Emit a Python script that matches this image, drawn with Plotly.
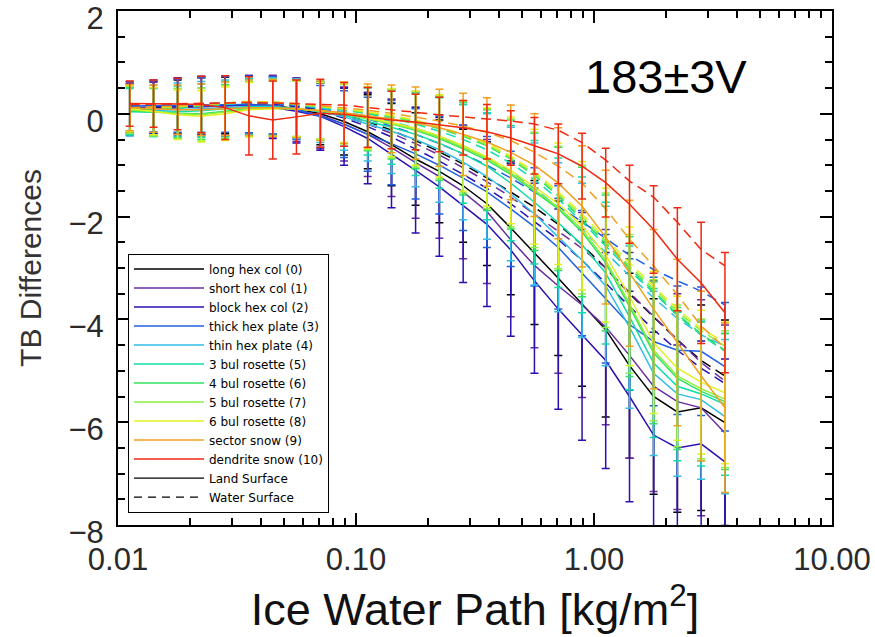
import plotly.graph_objects as go

# Ice water path [kg/m2]
iwp = [0.0112, 0.0141, 0.0178, 0.0224, 0.0282, 0.0355, 0.0447, 0.0562, 0.0708, 0.0891,
       0.112, 0.141, 0.178, 0.224, 0.282, 0.355, 0.447, 0.562, 0.708, 0.891,
       1.12, 1.41, 1.78, 2.24, 2.82, 3.55]

habit_names = ["long hex col (0)", "short hex col (1)", "block hex col (2)",
               "thick hex plate (3)", "thin hex plate (4)", "3 bul rosette (5)",
               "4 bul rosette (6)", "5 bul rosette (7)", "6 bul rosette (8)",
               "sector snow (9)", "dendrite snow (10)"]
habit_colors = ["#000000", "#6a2ca0", "#2a10b0", "#1f5fe0", "#30bde8", "#10dca8",
                "#30e060", "#88f040", "#e0f020", "#f0a020", "#f02810"]

# Land surface TB differences
land_0 = [0.10, 0.12, 0.14, 0.15, 0.16, 0.18, 0.16, 0.10, 0.00, -0.15, -0.35, -0.60, -0.88, -1.12, -1.40, -1.75, -2.22, -2.70, -3.20, -3.70, -4.20, -4.90, -5.50, -5.80, -5.72, -6.01]
land_1 = [0.08, 0.10, 0.12, 0.14, 0.15, 0.17, 0.15, 0.08, -0.03, -0.20, -0.40, -0.66, -0.95, -1.22, -1.52, -1.90, -2.45, -2.95, -3.35, -3.72, -4.15, -4.70, -5.30, -5.60, -5.72, -6.21]
land_2 = [0.12, 0.14, 0.15, 0.16, 0.16, 0.16, 0.12, 0.05, -0.05, -0.25, -0.48, -0.78, -1.10, -1.42, -1.78, -2.15, -2.65, -3.25, -3.80, -4.30, -4.80, -5.50, -6.25, -6.50, -6.42, -6.77]
land_3 = [0.15, 0.15, 0.16, 0.17, 0.18, 0.18, 0.16, 0.08, -0.05, -0.20, -0.40, -0.58, -0.78, -1.00, -1.25, -1.52, -1.85, -2.20, -2.60, -3.10, -3.60, -4.10, -4.43, -4.60, -4.62, -4.92]
land_4 = [0.05, 0.06, 0.08, 0.10, 0.12, 0.14, 0.14, 0.10, 0.04, -0.06, -0.20, -0.34, -0.50, -0.70, -0.94, -1.22, -1.56, -1.95, -2.40, -2.85, -3.35, -4.15, -5.05, -5.45, -5.56, -5.89]
land_5 = [0.04, 0.03, 0.04, 0.06, 0.10, 0.13, 0.13, 0.10, 0.05, -0.03, -0.15, -0.26, -0.40, -0.57, -0.78, -1.02, -1.35, -1.72, -2.12, -2.55, -3.10, -3.95, -4.85, -5.30, -5.45, -5.65]
land_6 = [0.06, 0.03, 0.01, 0.00, 0.05, 0.10, 0.12, 0.10, 0.06, 0.00, -0.10, -0.20, -0.32, -0.48, -0.68, -0.90, -1.18, -1.52, -1.85, -2.30, -2.90, -3.75, -4.65, -5.15, -5.40, -5.60]
land_7 = [0.08, 0.04, 0.00, -0.02, 0.03, 0.09, 0.11, 0.10, 0.06, 0.00, -0.09, -0.19, -0.30, -0.46, -0.65, -0.87, -1.15, -1.48, -1.82, -2.25, -2.85, -3.70, -4.60, -5.10, -5.35, -5.55]
land_8 = [0.10, 0.05, -0.02, -0.05, 0.00, 0.08, 0.10, 0.10, 0.06, 0.01, -0.08, -0.17, -0.28, -0.43, -0.62, -0.84, -1.10, -1.42, -1.75, -2.18, -2.75, -3.55, -4.45, -4.95, -5.22, -5.43]
land_9 = [0.12, 0.10, 0.08, 0.08, 0.10, 0.12, 0.12, 0.10, 0.06, 0.02, -0.04, -0.10, -0.18, -0.27, -0.40, -0.55, -0.75, -1.00, -1.35, -1.80, -2.40, -3.10, -3.80, -4.45, -5.10, -5.72]
land_10 = [0.20, 0.20, 0.19, 0.18, 0.12, -0.04, -0.12, -0.06, 0.01, -0.01, -0.07, -0.12, -0.16, -0.21, -0.27, -0.35, -0.47, -0.62, -0.78, -1.02, -1.34, -1.76, -2.25, -2.83, -3.29, -3.87]

# Water surface TB differences
water_0 = [0.12, 0.14, 0.16, 0.18, 0.20, 0.22, 0.20, 0.15, 0.08, -0.02, -0.15, -0.32, -0.52, -0.74, -0.98, -1.25, -1.52, -1.82, -2.15, -2.55, -3.00, -3.50, -3.95, -4.40, -4.80, -5.10]
water_1 = [0.10, 0.13, 0.15, 0.17, 0.19, 0.21, 0.19, 0.14, 0.06, -0.05, -0.20, -0.38, -0.58, -0.80, -1.05, -1.32, -1.62, -1.95, -2.30, -2.62, -3.00, -3.48, -3.94, -4.39, -4.84, -5.20]
water_2 = [0.14, 0.16, 0.17, 0.19, 0.21, 0.22, 0.20, 0.14, 0.05, -0.08, -0.25, -0.45, -0.68, -0.92, -1.18, -1.45, -1.75, -2.10, -2.45, -2.85, -3.30, -3.75, -4.20, -4.60, -4.95, -5.25]
water_3 = [0.15, 0.16, 0.17, 0.19, 0.21, 0.23, 0.21, 0.17, 0.10, 0.02, -0.10, -0.24, -0.40, -0.58, -0.78, -1.00, -1.25, -1.52, -1.80, -2.10, -2.42, -2.75, -3.03, -3.25, -3.45, -3.72]
water_4 = [0.08, 0.10, 0.12, 0.15, 0.18, 0.22, 0.21, 0.17, 0.11, 0.04, -0.05, -0.15, -0.28, -0.44, -0.62, -0.85, -1.12, -1.45, -1.82, -2.25, -2.70, -3.15, -3.58, -3.98, -4.30, -4.52]
water_5 = [0.07, 0.09, 0.11, 0.15, 0.19, 0.23, 0.22, 0.18, 0.13, 0.07, 0.00, -0.09, -0.20, -0.34, -0.50, -0.70, -0.96, -1.28, -1.66, -2.10, -2.58, -3.05, -3.48, -3.92, -4.30, -4.62]
water_6 = [0.08, 0.10, 0.12, 0.16, 0.20, 0.24, 0.23, 0.19, 0.14, 0.08, 0.02, -0.06, -0.16, -0.29, -0.44, -0.62, -0.88, -1.20, -1.60, -2.05, -2.52, -3.00, -3.45, -3.90, -4.28, -4.60]
water_7 = [0.09, 0.11, 0.13, 0.17, 0.21, 0.24, 0.23, 0.19, 0.14, 0.09, 0.03, -0.05, -0.14, -0.27, -0.42, -0.60, -0.85, -1.17, -1.56, -2.00, -2.48, -2.96, -3.40, -3.85, -4.22, -4.52]
water_8 = [0.10, 0.12, 0.14, 0.18, 0.21, 0.24, 0.23, 0.20, 0.15, 0.10, 0.04, -0.03, -0.12, -0.25, -0.40, -0.57, -0.82, -1.13, -1.52, -1.95, -2.42, -2.90, -3.35, -3.80, -4.18, -4.45]
water_9 = [0.12, 0.13, 0.15, 0.18, 0.20, 0.23, 0.22, 0.20, 0.16, 0.12, 0.07, 0.01, -0.06, -0.14, -0.24, -0.36, -0.52, -0.75, -1.02, -1.35, -1.85, -2.44, -2.96, -3.52, -4.13, -4.55]
water_10 = [0.18, 0.19, 0.20, 0.21, 0.22, 0.22, 0.21, 0.20, 0.19, 0.17, 0.12, 0.08, 0.03, -0.02, -0.06, -0.10, -0.14, -0.20, -0.32, -0.56, -0.90, -1.31, -1.62, -2.11, -2.64, -2.96]

# Land error bars (+/-)
err_0 = [0.48, 0.50, 0.52, 0.55, 0.55, 0.55, 0.56, 0.58, 0.60, 0.65, 0.72, 0.80, 0.90, 1.00, 1.10, 1.20, 1.30, 1.40, 1.50, 1.60, 1.70, 1.80, 1.90, 1.95, 2.00, 2.00]
err_1 = [0.50, 0.52, 0.55, 0.57, 0.58, 0.58, 0.60, 0.62, 0.65, 0.72, 0.82, 0.95, 1.08, 1.20, 1.30, 1.40, 1.50, 1.60, 1.70, 1.80, 1.90, 2.00, 2.05, 2.10, 2.10, 2.10]
err_2 = [0.50, 0.52, 0.55, 0.57, 0.58, 0.58, 0.60, 0.62, 0.66, 0.75, 0.88, 1.05, 1.22, 1.35, 1.50, 1.60, 1.68, 1.80, 1.95, 2.05, 2.10, 2.05, 2.00, 2.00, 2.00, 2.00]
err_3 = [0.48, 0.50, 0.52, 0.53, 0.54, 0.55, 0.56, 0.58, 0.60, 0.65, 0.72, 0.80, 0.88, 0.95, 1.02, 1.08, 1.12, 1.15, 1.20, 1.22, 1.25, 1.28, 1.25, 1.25, 1.25, 1.25]
err_4 = [0.48, 0.50, 0.52, 0.53, 0.54, 0.55, 0.56, 0.58, 0.60, 0.65, 0.72, 0.82, 0.92, 1.02, 1.12, 1.22, 1.30, 1.38, 1.45, 1.50, 1.55, 1.58, 1.60, 1.60, 1.55, 1.50]
err_5 = [0.45, 0.47, 0.50, 0.52, 0.53, 0.54, 0.55, 0.55, 0.56, 0.60, 0.65, 0.72, 0.80, 0.88, 0.96, 1.04, 1.12, 1.20, 1.26, 1.32, 1.38, 1.42, 1.45, 1.45, 1.40, 1.38]
err_6 = [0.45, 0.46, 0.48, 0.50, 0.52, 0.53, 0.54, 0.54, 0.55, 0.58, 0.62, 0.68, 0.75, 0.82, 0.90, 0.98, 1.06, 1.14, 1.20, 1.26, 1.32, 1.36, 1.38, 1.38, 1.35, 1.32]
err_7 = [0.46, 0.47, 0.49, 0.51, 0.52, 0.53, 0.54, 0.55, 0.56, 0.58, 0.61, 0.67, 0.74, 0.81, 0.89, 0.97, 1.05, 1.12, 1.19, 1.25, 1.31, 1.35, 1.37, 1.38, 1.36, 1.33]
err_8 = [0.45, 0.46, 0.48, 0.50, 0.52, 0.53, 0.54, 0.54, 0.55, 0.57, 0.60, 0.66, 0.72, 0.80, 0.88, 0.96, 1.04, 1.12, 1.18, 1.25, 1.30, 1.35, 1.38, 1.40, 1.40, 1.38]
err_9 = [0.45, 0.46, 0.48, 0.50, 0.52, 0.54, 0.55, 0.56, 0.58, 0.60, 0.62, 0.66, 0.70, 0.75, 0.80, 0.86, 0.92, 1.00, 1.08, 1.18, 1.30, 1.42, 1.55, 1.62, 1.65, 1.65]
err_10 = [0.44, 0.46, 0.50, 0.55, 0.62, 0.76, 0.76, 0.72, 0.66, 0.62, 0.58, 0.56, 0.54, 0.53, 0.53, 0.53, 0.53, 0.55, 0.58, 0.64, 0.67, 0.76, 0.85, 1.00, 1.18, 1.17]

land = [land_0, land_1, land_2, land_3, land_4, land_5, land_6, land_7, land_8, land_9, land_10]
water = [water_0, water_1, water_2, water_3, water_4, water_5, water_6, water_7, water_8, water_9, water_10]
errs = [err_0, err_1, err_2, err_3, err_4, err_5, err_6, err_7, err_8, err_9, err_10]

x_tickvals = [0.01, 0.1, 1, 10]
x_ticktext = ["0.01", "0.10", "1.00", "10.00"]

fig = go.Figure()
for name, col, yl, yw, er in zip(habit_names, habit_colors, land, water, errs):
    fig.add_trace(go.Scatter(
        x=iwp, y=yl, mode="lines", name=name,
        line=dict(color=col, width=1.5),
        error_y=dict(type="data", array=er, visible=True, color=col, thickness=1.5, width=4),
        showlegend=True))
    fig.add_trace(go.Scatter(
        x=iwp, y=yw, mode="lines", name=name + " water",
        line=dict(color=col, width=1.5, dash="10px,6px"),
        showlegend=False))

fig.add_trace(go.Scatter(x=[None], y=[None], mode="lines", name="Land Surface",
                         line=dict(color="black", width=1.2)))
fig.add_trace(go.Scatter(x=[None], y=[None], mode="lines", name="Water Surface",
                         line=dict(color="black", width=1.2, dash="8px,6px")))

axis_font = dict(family="Liberation Sans", size=31, color="#2a2a2a")
fig.update_xaxes(
    type="log", range=[-2, 1], tickvals=x_tickvals, ticktext=x_ticktext,
    showline=True, linecolor="black", linewidth=2, mirror="ticks",
    ticks="inside", ticklen=12, tickwidth=1.5, tickcolor="black",
    minor=dict(ticks="inside", ticklen=7, tickwidth=1.5, tickcolor="black", dtick="D1", showgrid=False),
    showgrid=False, zeroline=False, tickfont=axis_font, automargin=False,
    ticklabeloverflow="allow", ticklabelstandoff=6,
    title=dict(text="Ice Water Path [kg/m<sup>2</sup>]", font=dict(family="Liberation Sans", size=45, color="#111"), standoff=0))
fig.update_yaxes(
    range=[-8, 2], dtick=2, tick0=0,
    showline=True, linecolor="black", linewidth=2, mirror="ticks",
    ticks="inside", ticklen=12, tickwidth=1.5, tickcolor="black",
    minor=dict(ticks="inside", ticklen=7, tickwidth=1.5, tickcolor="black", dtick=0.5, showgrid=False),
    showgrid=False, zeroline=False, tickfont=axis_font, automargin=False,
    ticklabeloverflow="allow", ticklabelstandoff=6, ticklabelshift=7,
    title=dict(text="TB Differences", font=dict(family="Liberation Sans", size=30, color="#333"), standoff=18))

fig.add_annotation(text="183±3V", xref="paper", yref="paper", x=0.7675, y=0.8716,
                   xanchor="center", yanchor="middle",
                   showarrow=False, font=dict(family="Liberation Sans", size=47, color="black"))

fig.update_layout(
    width=875, height=637,
    margin=dict(l=118, r=43, t=11, b=112),
    paper_bgcolor="white", plot_bgcolor="white",
    legend=dict(x=0.014, y=0.528, xanchor="left", yanchor="top",
                bgcolor="white", bordercolor="black", borderwidth=1,
                font=dict(family="DejaVu Sans", size=12, color="black"),
                itemwidth=70, tracegroupgap=0),
)

fig.write_html("out.html", config={"displayModeBar": False},
               post_script="document.body.style.margin='0px';document.body.style.overflow='hidden';")
